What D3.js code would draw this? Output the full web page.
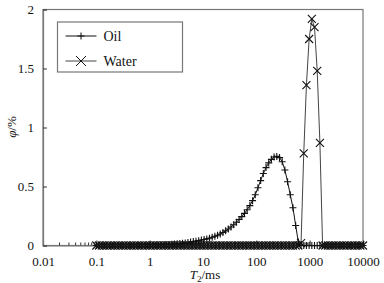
<!DOCTYPE html>
<html>
<head>
<meta charset="utf-8">
<script src="https://cdn.jsdelivr.net/npm/d3@7"></script>
<style>
  body { margin: 0; background: #fff; }
  svg text { font-family: "Liberation Serif", "Times New Roman", "DejaVu Serif", serif; fill: #111; }
</style>
</head>
<body>
<div id="wrapper"></div>
<script>
// Data: T2 bins (ms), 100 log-spaced bins from 0.1 to 10000
const binCount = 100;
const t2 = d3.range(binCount).map(i => 0.1 * Math.pow(10, 5 * i / (binCount - 1)));

const oil = [
  0,0,0,0,0,0,0,0,0,0, 0,0,0,0,0,0,0,0,0,0,
  0.002,0.002,0.003,0.004,0.004,0.005,0.007,0.008,0.01,0.012,
  0.014,0.016,0.019,0.022,0.025,0.029,0.033,0.037,0.041,0.046,
  0.051,0.056,0.062,0.07,0.078,0.087,0.098,0.11,0.124,0.14,
  0.157,0.176,0.197,0.22,0.245,0.272,0.303,0.338,0.38,0.43,
  0.49,0.55,0.61,0.66,0.70,0.73,0.75,0.755,0.745,0.71,
  0.64,0.54,0.43,0.32,0.17,0.03,
  0,0,0,0,0,0,0,0,0,0, 0,0,0,0,0,0,0,0,0,0, 0,0,0,0
];
const water = [
  0,0,0,0,0,0,0,0,0,0, 0,0,0,0,0,0,0,0,0,0,
  0,0,0,0,0,0,0,0,0,0, 0,0,0,0,0,0,0,0,0,0,
  0,0,0,0,0,0,0,0,0,0, 0,0,0,0,0,0,0,0,0,0,
  0,0,0,0,0,0,0,0,0,0, 0,0,0,0,0,0,
  0.02,0.78,1.36,1.75,1.92,1.85,1.48,0.87,
  0,0,0,0,0,0,0,0,0,0, 0,0,0,0,0,0
];
const xTicks = [0.01, 0.1, 1, 10, 100, 1000, 10000];
const xTickLabels = ["0.01", "0.1", "1", "10", "100", "1000", "10000"];
const yTicks = [0, 0.5, 1, 1.5, 2];
const yTickLabels = ["0", "0.5", "1", "1.5", "2"];
const seriesNames = ["Oil", "Water"];

// Dimension
const dimension = {width: 384, height: 283,
  margin: {top: 9.5, bottom: 37.5, left: 43, right: 21}};
dimension.boundWidth = dimension.width - dimension.margin.left - dimension.margin.right;
dimension.boundHeight = dimension.height - dimension.margin.top - dimension.margin.bottom;

// Canvas
const svg = d3.select('#wrapper').append('svg')
  .attr('width', dimension.width).attr('height', dimension.height);
const bounds = svg.append('g')
  .attr('transform', `translate(${dimension.margin.left},${dimension.margin.top})`);

// Scales
const xScale = d3.scaleLog().domain([0.01, 10000]).range([0, dimension.boundWidth]);
const yScale = d3.scaleLinear().domain([0, 2]).range([dimension.boundHeight, 0]);

// Frame
bounds.append('rect')
  .attr('width', dimension.boundWidth).attr('height', dimension.boundHeight)
  .attr('fill', 'none').attr('stroke', '#777').attr('stroke-width', 1.2);

// Axes
const minorTicks = [];
xTicks.slice(0, -1).forEach(t => { for (let m = 2; m <= 9; m++) minorTicks.push(t * m); });
bounds.append('g').attr('transform', `translate(0,${dimension.boundHeight})`)
  .call(d3.axisBottom(xScale).tickValues(minorTicks).tickSize(-3).tickFormat(''))
  .call(g => g.select('.domain').remove())
  .selectAll('line').attr('stroke', '#333');
const xAxis = bounds.append('g').attr('transform', `translate(0,${dimension.boundHeight})`)
  .call(d3.axisBottom(xScale).tickValues(xTicks).tickSize(-5).tickPadding(11)
    .tickFormat((d, i) => xTickLabels[i]));
xAxis.attr('font-family', null);
xAxis.select('.domain').attr('stroke', '#777').attr('stroke-width', 1.2);
xAxis.selectAll('line').attr('stroke', '#333');
xAxis.selectAll('text').attr('font-size', 13).attr('fill', '#111');

const yAxis = bounds.append('g')
  .call(d3.axisLeft(yScale).tickValues(yTicks).tickSize(-4).tickPadding(9)
    .tickFormat((d, i) => yTickLabels[i]));
yAxis.attr('font-family', null);
yAxis.select('.domain').attr('stroke', '#777').attr('stroke-width', 1.2);
yAxis.selectAll('line').attr('stroke', '#333');
yAxis.selectAll('text').attr('font-size', 13).attr('fill', '#111');

// Axis labels
const xLabel = svg.append('text')
  .attr('x', 205).attr('y', 279).attr('text-anchor', 'middle').attr('font-size', 13);
xLabel.append('tspan').attr('font-style', 'italic').text('T');
xLabel.append('tspan').attr('font-size', 9).attr('dy', 3).text('2');
xLabel.append('tspan').attr('dy', -3).text('/ms');

const yLabel = svg.append('text')
  .attr('transform', 'translate(16,127) rotate(-90)')
  .attr('text-anchor', 'middle').attr('font-size', 13);
yLabel.append('tspan').attr('font-style', 'italic').text('φ');
yLabel.append('tspan').text('/%');

// Marker shapes
const plusPath = s => `M${-s},0H${s}M0,${-s}V${s}`;
const crossPath = s => `M${-s},${-s}L${s},${s}M${-s},${s}L${s},${-s}`;

// Series
const lineGen = d3.line().x(d => xScale(d[0])).y(d => yScale(d[1]));
const series = [
  {name: seriesNames[0], values: oil, marker: plusPath(3.5), lineColor: '#111'},
  {name: seriesNames[1], values: water, marker: crossPath(4), lineColor: '#444'}
];
series.forEach(s => {
  const pts = t2.map((t, i) => [t, s.values[i]]);
  bounds.append('path').datum(pts).attr('d', lineGen)
    .attr('fill', 'none').attr('stroke', s.lineColor).attr('stroke-width', 1);
  bounds.append('g').selectAll('path').data(pts).enter().append('path')
    .attr('transform', d => `translate(${xScale(d[0])},${yScale(d[1])})`)
    .attr('d', s.marker).attr('fill', 'none').attr('stroke', '#111').attr('stroke-width', 1.1);
});

// Legend
const legend = svg.append('g').attr('transform', 'translate(57.5,22)');
legend.append('rect').attr('width', 125).attr('height', 50)
  .attr('fill', '#fff').attr('stroke', '#777').attr('stroke-width', 1.2);
series.forEach((s, i) => {
  const gy = 14 + i * 25;
  legend.append('line').attr('x1', 8).attr('x2', 39).attr('y1', gy).attr('y2', gy)
    .attr('stroke', s.lineColor).attr('stroke-width', 1);
  legend.append('path').attr('transform', `translate(23.5,${gy})`)
    .attr('d', i === 0 ? plusPath(3.5) : crossPath(5))
    .attr('fill', 'none').attr('stroke', '#111').attr('stroke-width', 1);
  legend.append('text').attr('x', 46).attr('y', gy + 4.5).attr('font-size', 14).text(s.name);
});
</script>
</body>
</html>
